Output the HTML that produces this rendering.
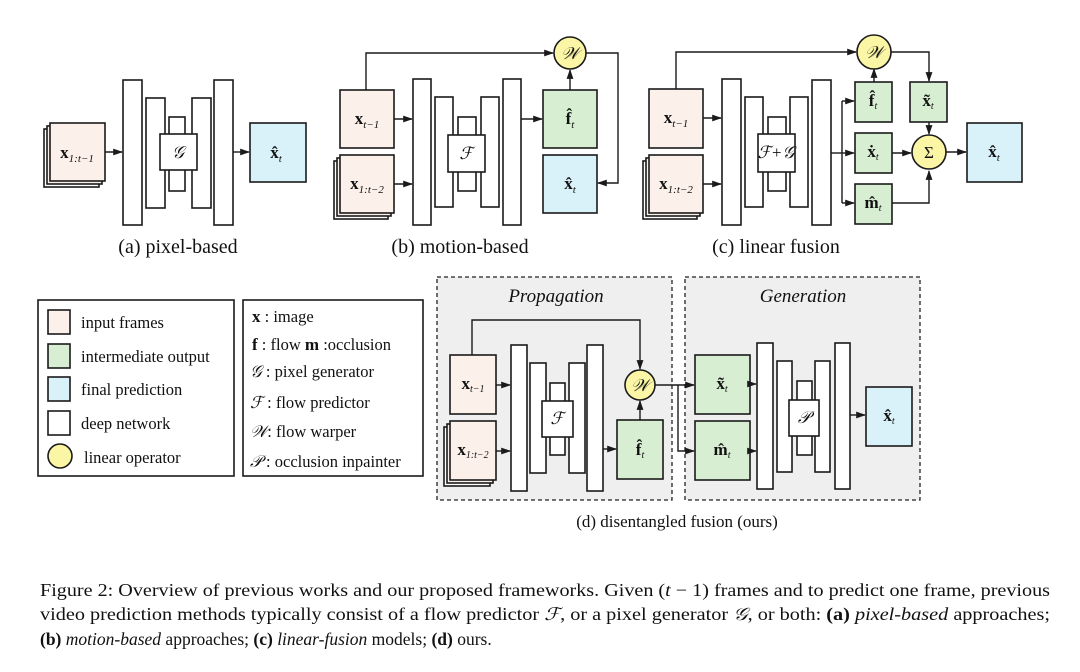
<!DOCTYPE html>
<html><head><meta charset="utf-8"><style>
html,body{margin:0;padding:0;background:#fff;}
svg{display:block;}
text{font-family:"Liberation Serif",serif;fill:#111;}
.b{stroke:#1a1a1a;stroke-width:1.6;}
.in{fill:#fcf1ea;}
.gr{fill:#d8eed2;}
.bl{fill:#d9f1f8;}
.wh{fill:#fff;}
.ye{fill:#fbf6a6;}
.ln{stroke:#1a1a1a;stroke-width:1.4;fill:none;}
.v{font-weight:bold;font-size:17px;}
.cal{font-style:italic;font-size:17px;}
</style></head><body>
<svg width="1080" height="672" viewBox="0 0 1080 672" xmlns="http://www.w3.org/2000/svg">
<defs>
<marker id="a" viewBox="0 0 10 10" refX="9" refY="5" markerWidth="7" markerHeight="7" orient="auto"><path d="M0,1.5 L10,5 L0,8.5 z" fill="#1a1a1a"/></marker>
</defs>

<!-- ===== (a) ===== -->
<rect class="b wh" x="44" y="129" width="55" height="58"/>
<rect class="b in" x="47" y="126" width="55" height="58"/>
<rect class="b in" x="50" y="123" width="55" height="58"/>
<text x="77" y="158" text-anchor="middle" class="v">x<tspan font-size="11" font-style="italic" font-weight="normal" dy="4">1:t−1</tspan></text>
<line class="ln" x1="105" y1="152" x2="122" y2="152" marker-end="url(#a)"/>
<rect class="b wh" x="123" y="80" width="19" height="145"/>
<rect class="b wh" x="146" y="98" width="19" height="110"/>
<rect class="b wh" x="169" y="117" width="16" height="74"/>
<rect class="b wh" x="192" y="98" width="19" height="110"/>
<rect class="b wh" x="214" y="80" width="19" height="145"/>
<rect class="b wh" x="160" y="134" width="37" height="36"/>
<text x="178" y="158" text-anchor="middle" class="cal">𝒢</text>
<line class="ln" x1="233" y1="152" x2="249" y2="152" marker-end="url(#a)"/>
<rect class="b bl" x="250" y="123" width="56" height="59"/>
<text x="276" y="158" text-anchor="middle" class="v">x̂<tspan font-size="11" font-style="italic" font-weight="normal" dy="4">t</tspan></text>
<text x="178" y="253" text-anchor="middle" font-size="20">(a) pixel-based</text>

<!-- ===== (b) ===== -->
<rect class="b wh" x="334" y="161" width="54" height="58"/>
<rect class="b in" x="337" y="158" width="54" height="58"/>
<rect class="b in" x="340" y="155" width="54" height="58"/>
<text x="367" y="189" text-anchor="middle" class="v">x<tspan font-size="11" font-style="italic" font-weight="normal" dy="4">1:t−2</tspan></text>
<rect class="b in" x="340" y="90" width="54" height="58"/>
<text x="367" y="124" text-anchor="middle" class="v">x<tspan font-size="11" font-style="italic" font-weight="normal" dy="4">t−1</tspan></text>
<line class="ln" x1="394" y1="119" x2="412" y2="119" marker-end="url(#a)"/>
<line class="ln" x1="394" y1="184" x2="412" y2="184" marker-end="url(#a)"/>
<rect class="b wh" x="413" y="79" width="18" height="146"/>
<rect class="b wh" x="435" y="97" width="18" height="110"/>
<rect class="b wh" x="458" y="117" width="18" height="74"/>
<rect class="b wh" x="481" y="97" width="18" height="110"/>
<rect class="b wh" x="503" y="79" width="18" height="146"/>
<rect class="b wh" x="448" y="135" width="37" height="37"/>
<text x="466" y="159" text-anchor="middle" class="cal">ℱ</text>
<line class="ln" x1="521" y1="119" x2="542" y2="119" marker-end="url(#a)"/>
<rect class="b gr" x="543" y="90" width="54" height="58"/>
<text x="570" y="124" text-anchor="middle" class="v">f̂<tspan font-size="11" font-style="italic" font-weight="normal" dy="4">t</tspan></text>
<rect class="b bl" x="543" y="155" width="54" height="58"/>
<text x="570" y="189" text-anchor="middle" class="v">x̂<tspan font-size="11" font-style="italic" font-weight="normal" dy="4">t</tspan></text>
<polyline class="ln" points="366,90 366,53 553,53" marker-end="url(#a)"/>
<line class="ln" x1="570" y1="90" x2="570" y2="70" marker-end="url(#a)"/>
<circle class="b ye" cx="570" cy="53" r="16"/>
<text x="570" y="59" text-anchor="middle" class="cal">𝒲</text>
<polyline class="ln" points="586,53 618,53 618,183 598,183" marker-end="url(#a)"/>
<text x="460" y="253" text-anchor="middle" font-size="20">(b) motion-based</text>

<!-- ===== (c) ===== -->
<rect class="b wh" x="643" y="161" width="54" height="58"/>
<rect class="b in" x="646" y="158" width="54" height="58"/>
<rect class="b in" x="649" y="155" width="54" height="58"/>
<text x="676" y="189" text-anchor="middle" class="v">x<tspan font-size="11" font-style="italic" font-weight="normal" dy="4">1:t−2</tspan></text>
<rect class="b in" x="649" y="89" width="54" height="59"/>
<text x="676" y="123" text-anchor="middle" class="v">x<tspan font-size="11" font-style="italic" font-weight="normal" dy="4">t−1</tspan></text>
<line class="ln" x1="703" y1="118" x2="721" y2="118" marker-end="url(#a)"/>
<line class="ln" x1="703" y1="184" x2="721" y2="184" marker-end="url(#a)"/>
<rect class="b wh" x="722" y="79" width="19" height="146"/>
<rect class="b wh" x="745" y="97" width="18" height="110"/>
<rect class="b wh" x="768" y="117" width="18" height="74"/>
<rect class="b wh" x="790" y="97" width="18" height="110"/>
<rect class="b wh" x="812" y="80" width="19" height="145"/>
<rect class="b wh" x="758" y="134" width="37" height="38"/>
<text x="776" y="158" text-anchor="middle" class="cal" font-size="14">ℱ+𝒢</text>
<line class="ln" x1="831" y1="153" x2="842" y2="153"/>
<line class="ln" x1="842" y1="101" x2="842" y2="203"/>
<line class="ln" x1="842" y1="101" x2="854" y2="101" marker-end="url(#a)"/>
<line class="ln" x1="842" y1="153" x2="854" y2="153" marker-end="url(#a)"/>
<line class="ln" x1="842" y1="203" x2="854" y2="203" marker-end="url(#a)"/>
<rect class="b gr" x="855" y="82" width="37" height="40"/>
<text x="873" y="106" text-anchor="middle" class="v" font-size="15">f̂<tspan font-size="10" font-style="italic" font-weight="normal" dy="3">t</tspan></text>
<rect class="b gr" x="855" y="133" width="37" height="40"/>
<text x="873" y="157" text-anchor="middle" class="v" font-size="15">ẋ<tspan font-size="10" font-style="italic" font-weight="normal" dy="3">t</tspan></text>
<rect class="b gr" x="855" y="184" width="37" height="40"/>
<text x="873" y="208" text-anchor="middle" class="v" font-size="15">m̂<tspan font-size="10" font-style="italic" font-weight="normal" dy="3">t</tspan></text>
<rect class="b gr" x="910" y="82" width="37" height="40"/>
<text x="928" y="106" text-anchor="middle" class="v" font-size="15">x̃<tspan font-size="10" font-style="italic" font-weight="normal" dy="3">t</tspan></text>
<polyline class="ln" points="676,89 676,52 856,52" marker-end="url(#a)"/>
<line class="ln" x1="874" y1="82" x2="874" y2="69" marker-end="url(#a)"/>
<circle class="b ye" cx="874" cy="52" r="17"/>
<text x="874" y="58" text-anchor="middle" class="cal">𝒲</text>
<polyline class="ln" points="891,52 929,52 929,81" marker-end="url(#a)"/>
<line class="ln" x1="929" y1="122" x2="929" y2="134" marker-end="url(#a)"/>
<line class="ln" x1="892" y1="153" x2="911" y2="153" marker-end="url(#a)"/>
<polyline class="ln" points="892,203 929,203 929,171" marker-end="url(#a)"/>
<circle class="b ye" cx="929" cy="152" r="17"/>
<text x="929" y="158" text-anchor="middle" font-size="17">Σ</text>
<line class="ln" x1="946" y1="152" x2="966" y2="152" marker-end="url(#a)"/>
<rect class="b bl" x="967" y="123" width="55" height="59"/>
<text x="994" y="157" text-anchor="middle" class="v">x̂<tspan font-size="11" font-style="italic" font-weight="normal" dy="4">t</tspan></text>
<text x="776" y="253" text-anchor="middle" font-size="20">(c) linear fusion</text>

<!-- ===== legend ===== -->
<rect class="b wh" x="38" y="300" width="196" height="176" stroke-width="1.3"/>
<rect class="b in" x="48" y="310" width="22" height="24"/>
<text x="81" y="328" font-size="16.5">input frames</text>
<rect class="b gr" x="48" y="344" width="22" height="24"/>
<text x="81" y="362" font-size="16.5">intermediate output</text>
<rect class="b bl" x="48" y="377" width="22" height="24"/>
<text x="81" y="395" font-size="16.5">final prediction</text>
<rect class="b wh" x="48" y="411" width="22" height="24"/>
<text x="81" y="429" font-size="16.5">deep network</text>
<circle class="b ye" cx="60" cy="456" r="12"/>
<text x="84" y="463" font-size="16.5">linear operator</text>

<rect class="b wh" x="243" y="300" width="180" height="176" stroke-width="1.3"/>
<text x="252" y="322" font-size="16.5"><tspan font-weight="bold" font-size="17">x</tspan> : image</text>
<text x="252" y="350" font-size="16.5"><tspan font-weight="bold" font-size="17">f</tspan> : flow  <tspan font-weight="bold" font-size="17">m</tspan> :occlusion</text>
<text x="250" y="377" font-size="16.5"><tspan font-style="italic">𝒢</tspan> : pixel generator</text>
<text x="250" y="408" font-size="16.5"><tspan font-style="italic">ℱ</tspan> : flow predictor</text>
<text x="250" y="437" font-size="16.5"><tspan font-style="italic">𝒲</tspan>: flow warper</text>
<text x="250" y="467" font-size="16.5"><tspan font-style="italic">𝒫</tspan> : occlusion inpainter</text>

<!-- ===== (d) ===== -->
<rect x="437" y="277" width="235" height="223" fill="#efefef" stroke="#222" stroke-width="1.3" stroke-dasharray="4,3"/>
<rect x="685" y="277" width="235" height="223" fill="#efefef" stroke="#222" stroke-width="1.3" stroke-dasharray="4,3"/>
<text x="556" y="302" text-anchor="middle" font-size="19" font-style="italic">Propagation</text>
<text x="803" y="302" text-anchor="middle" font-size="19" font-style="italic">Generation</text>

<rect class="b wh" x="444" y="427" width="46" height="59"/>
<rect class="b in" x="447" y="424" width="46" height="59"/>
<rect class="b in" x="450" y="421" width="46" height="59"/>
<text x="473" y="455" text-anchor="middle" class="v" font-size="15">x<tspan font-size="10" font-style="italic" font-weight="normal" dy="3">1:t−2</tspan></text>
<rect class="b in" x="450" y="355" width="46" height="59"/>
<text x="473" y="389" text-anchor="middle" class="v" font-size="15">x<tspan font-size="10" font-style="italic" font-weight="normal" dy="3">t−1</tspan></text>
<line class="ln" x1="496" y1="385" x2="510" y2="385" marker-end="url(#a)"/>
<line class="ln" x1="496" y1="451" x2="510" y2="451" marker-end="url(#a)"/>
<rect class="b wh" x="511" y="345" width="16" height="146"/>
<rect class="b wh" x="530" y="363" width="16" height="110"/>
<rect class="b wh" x="550" y="383" width="15" height="72"/>
<rect class="b wh" x="569" y="363" width="16" height="110"/>
<rect class="b wh" x="587" y="345" width="16" height="146"/>
<rect class="b wh" x="542" y="401" width="31" height="36"/>
<text x="557" y="424" text-anchor="middle" class="cal">ℱ</text>
<line class="ln" x1="603" y1="449" x2="616" y2="449" marker-end="url(#a)"/>
<rect class="b gr" x="617" y="420" width="46" height="59"/>
<text x="640" y="455" text-anchor="middle" class="v" font-size="15">f̂<tspan font-size="10" font-style="italic" font-weight="normal" dy="3">t</tspan></text>
<polyline class="ln" points="472,355 472,320 640,320 640,369" marker-end="url(#a)"/>
<line class="ln" x1="640" y1="420" x2="640" y2="401" marker-end="url(#a)"/>
<circle class="b ye" cx="640" cy="385" r="15"/>
<text x="640" y="391" text-anchor="middle" class="cal">𝒲</text>
<line class="ln" x1="655" y1="385" x2="694" y2="385" marker-end="url(#a)"/>
<polyline class="ln" points="678,385 678,451 694,451" marker-end="url(#a)"/>
<rect class="b gr" x="695" y="355" width="55" height="59"/>
<text x="722" y="389" text-anchor="middle" class="v" font-size="15">x̃<tspan font-size="10" font-style="italic" font-weight="normal" dy="3">t</tspan></text>
<rect class="b gr" x="695" y="421" width="55" height="59"/>
<text x="722" y="455" text-anchor="middle" class="v" font-size="15">m̂<tspan font-size="10" font-style="italic" font-weight="normal" dy="3">t</tspan></text>
<line class="ln" x1="750" y1="384" x2="756" y2="384" marker-end="url(#a)"/>
<line class="ln" x1="750" y1="451" x2="756" y2="451" marker-end="url(#a)"/>
<rect class="b wh" x="757" y="343" width="16" height="146"/>
<rect class="b wh" x="777" y="361" width="15" height="111"/>
<rect class="b wh" x="797" y="381" width="15" height="74"/>
<rect class="b wh" x="815" y="361" width="15" height="111"/>
<rect class="b wh" x="835" y="343" width="15" height="146"/>
<rect class="b wh" x="789" y="400" width="30" height="36"/>
<text x="804" y="423" text-anchor="middle" class="cal">𝒫</text>
<line class="ln" x1="850" y1="415" x2="865" y2="415" marker-end="url(#a)"/>
<rect class="b bl" x="866" y="387" width="46" height="59"/>
<text x="889" y="421" text-anchor="middle" class="v" font-size="15">x̂<tspan font-size="10" font-style="italic" font-weight="normal" dy="3">t</tspan></text>
<text x="677" y="527" text-anchor="middle" font-size="17">(d) disentangled fusion (ours)</text>

<!-- ===== caption ===== -->
<text x="40" y="596" font-size="17.5" textLength="1010" lengthAdjust="spacingAndGlyphs">Figure 2: Overview of previous works and our proposed frameworks. Given (<tspan font-style="italic">t</tspan> − 1) frames and to predict one frame, previous</text>
<text x="40" y="620" font-size="17.5" textLength="1010" lengthAdjust="spacingAndGlyphs">video prediction methods typically consist of a flow predictor <tspan font-style="italic">ℱ</tspan>, or a pixel generator <tspan font-style="italic">𝒢</tspan>, or both: <tspan font-weight="bold">(a)</tspan> <tspan font-style="italic">pixel-based</tspan> approaches;</text>
<text x="40" y="645" font-size="17.5"><tspan font-weight="bold">(b)</tspan> <tspan font-style="italic">motion-based</tspan> approaches; <tspan font-weight="bold">(c)</tspan> <tspan font-style="italic">linear-fusion</tspan> models; <tspan font-weight="bold">(d)</tspan> ours.</text>
</svg>
</body></html>
